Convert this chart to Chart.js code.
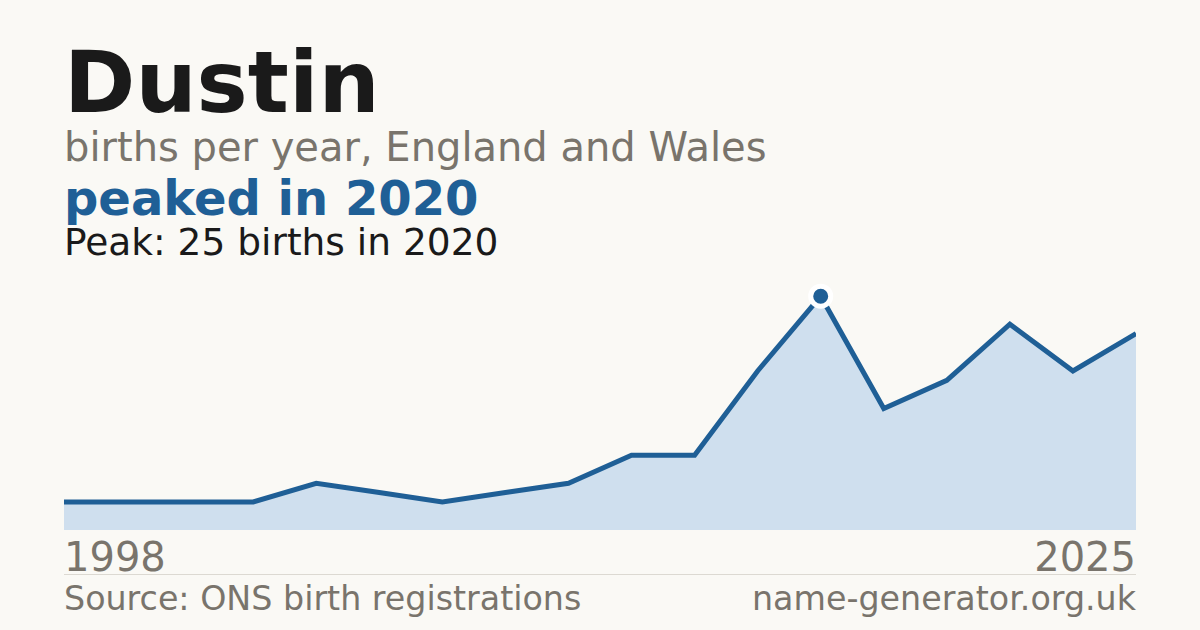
<!DOCTYPE html>
<html>
<head>
<meta charset="utf-8">
<script src="https://cdn.jsdelivr.net/npm/chart.js@4.4.1/dist/chart.umd.min.js"></script>
<style>
  html, body { margin: 0; padding: 0; }
  body { width: 1200px; height: 630px; background: #faf9f5; position: relative; overflow: hidden;
         font-family: "DejaVu Sans", sans-serif; }
  .t { position: absolute; left: 64px; white-space: nowrap; line-height: 1; }
  #name { top: 39px; font-size: 86px; font-weight: bold; color: #1a1a1a; }
  #sub { top: 127px; font-size: 40px; color: #79746c; }
  #peaked { top: 174px; font-size: 48px; font-weight: bold; color: #1f5f96; }
  #peak { top: 224px; font-size: 37.5px; color: #1a1a1a; }
  #chartBox { position: absolute; left: 64px; top: 270px; width: 1072px; height: 260px; }
  .yr { position: absolute; top: 537px; font-size: 40px; color: #79746c; line-height: 1; }
  #rule { position: absolute; left: 64px; top: 574px; width: 1072px; height: 1px; background: #dcd9d2; }
  .foot { position: absolute; top: 582px; font-size: 33.3px; color: #79746c; line-height: 1; white-space: nowrap; }
</style>
</head>
<body>
<div class="t" id="name">Dustin</div>
<div class="t" id="sub">births per year, England and Wales</div>
<div class="t" id="peaked">peaked in 2020</div>
<div class="t" id="peak">Peak: 25 births in 2020</div>
<div id="chartBox"><canvas id="myChart"></canvas></div>
<div class="yr" id="firstYear" style="left:64px"></div>
<div class="yr" id="lastYear" style="right:64px"></div>
<div id="rule"></div>
<div class="foot" style="left:64px">Source: ONS birth registrations</div>
<div class="foot" style="right:64px">name-generator.org.uk</div>
<script>
const years = ['1998', '1999', '2000', '2001', '2003', '2005', '2007', '2009', '2011', '2013', '2015', '2018',
  '2020', '2021', '2022', '2023', '2024', '2025'];
const births = [3, 3, 3, 3, 5, 4, 3, 4, 5, 8, 8, 17, 25, 13, 16, 22, 17, 21];
const peakYear = '2020';

const blue = '#1f5f96';
const peakIndex = years.indexOf(peakYear);

document.getElementById('firstYear').textContent = years[0];
document.getElementById('lastYear').textContent = years[years.length - 1];

const ctx = document.getElementById('myChart');
const myChart = new Chart(ctx, {
  type: 'line',
  data: {
    labels: years,
    datasets: [{
      data: births,
      borderColor: blue,
      backgroundColor: '#cfdfee',
      borderWidth: 5,
      fill: 'origin',
      tension: 0,
      pointRadius: births.map((v, i) => i === peakIndex ? 10 : 0),
      pointBackgroundColor: blue,
      pointBorderColor: '#ffffff',
      pointBorderWidth: 5,
      clip: false
    }]
  },
  options: {
    responsive: true,
    maintainAspectRatio: false,
    animation: false,
    layout: { padding: 0 },
    scales: {
      x: { display: false, offset: false },
      y: { display: false, min: 0, max: 27.8 }
    },
    plugins: {
      legend: { display: false },
      tooltip: { enabled: false }
    }
  }
});
</script>
</body>
</html>
